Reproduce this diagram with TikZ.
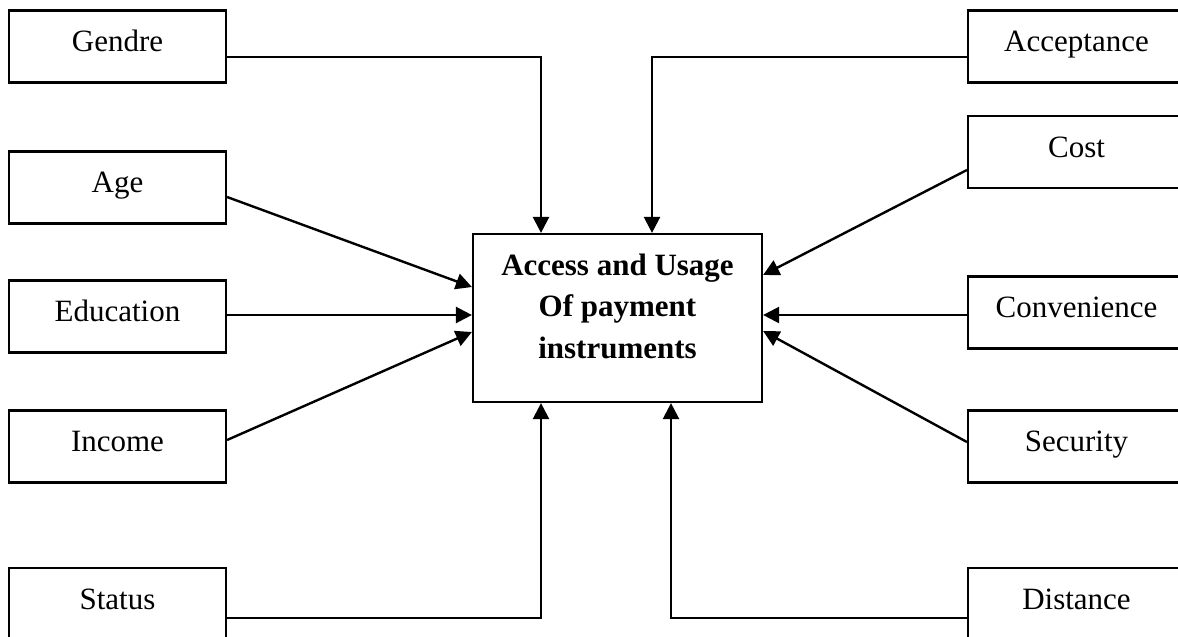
\documentclass[tikz,border=0pt]{standalone}
\usepackage{fontspec}
\setmainfont{Liberation Serif}
\usetikzlibrary{arrows.meta,calc}
\tikzset{
  fbox/.style={draw, line width=2.2pt, minimum width=217pt, minimum height=72pt,
    inner sep=0pt, text height=21pt, text depth=11pt,
    font=\fontsize{31}{37}\selectfont},
  mainbox/.style={draw, line width=2.2pt, minimum width=289pt, minimum height=168pt, inner sep=0pt},
  mainlabel/.style={align=center, inner sep=0pt, font=\fontsize{31}{41.5}\selectfont\bfseries},
  conn/.style={line width=2.4pt, -{Triangle[length=16pt,width=16pt]}}
}
\begin{document}
\begin{tikzpicture}[x=1pt,y=-1pt]
\useasboundingbox (0,0) rectangle (1178,637);
\clip (0,0) rectangle (1178,637);
% left boxes
\node[fbox] (gendre) at (117.5,46.5) {Gendre};
\node[fbox] (age) at (117.5,187.5) {Age};
\node[fbox] (edu) at (117.5,316.5) {Education};
\node[fbox] (income) at (117.5,446.5) {Income};
\node[fbox] (status) at (117.5,604) {Status};
% right boxes
\node[fbox] (accept) at (1076.5,46.5) {Acceptance};
\node[fbox] (cost) at (1076.5,152) {Cost};
\node[fbox] (conv) at (1076.5,312.5) {Convenience};
\node[fbox] (secu) at (1076.5,446.5) {Security};
\node[fbox] (dist) at (1076.5,604) {Distance};
% main
\node[mainbox] (main) at (617.5,318) {};
\node[mainlabel] (mainlbl) at (617.5,306) {Access and Usage\\Of payment\\instruments};
% connectors
\draw[conn] ($(gendre.east)+(0,10.5)$) -| ($(main.north)+(-76.5,0)$);
\draw[conn] ($(accept.west)+(0,10.5)$) -| ($(main.north)+(34.5,0)$);
\draw[conn] ($(status.east)+(0,14)$) -| ($(main.south)+(-76.5,0)$);
\draw[conn] ($(dist.west)+(0,14)$) -| ($(main.south)+(53.5,0)$);
\draw[conn] ($(age.east)+(0,9.5)$) -- ($(main.west)+(0,-31)$);
\draw[conn] ($(edu.east)+(0,-1.5)$) -- ($(main.west)+(0,-3)$);
\draw[conn] ($(income.east)+(0,-6.5)$) -- ($(main.west)+(0,14)$);
\draw[conn] ($(cost.west)+(0,18)$) -- ($(main.east)+(0,-43)$);
\draw[conn] ($(conv.west)+(0,2.5)$) -- ($(main.east)+(0,-3)$);
\draw[conn] ($(secu.west)+(0,-4.5)$) -- ($(main.east)+(0,13)$);
\end{tikzpicture}
\end{document}
